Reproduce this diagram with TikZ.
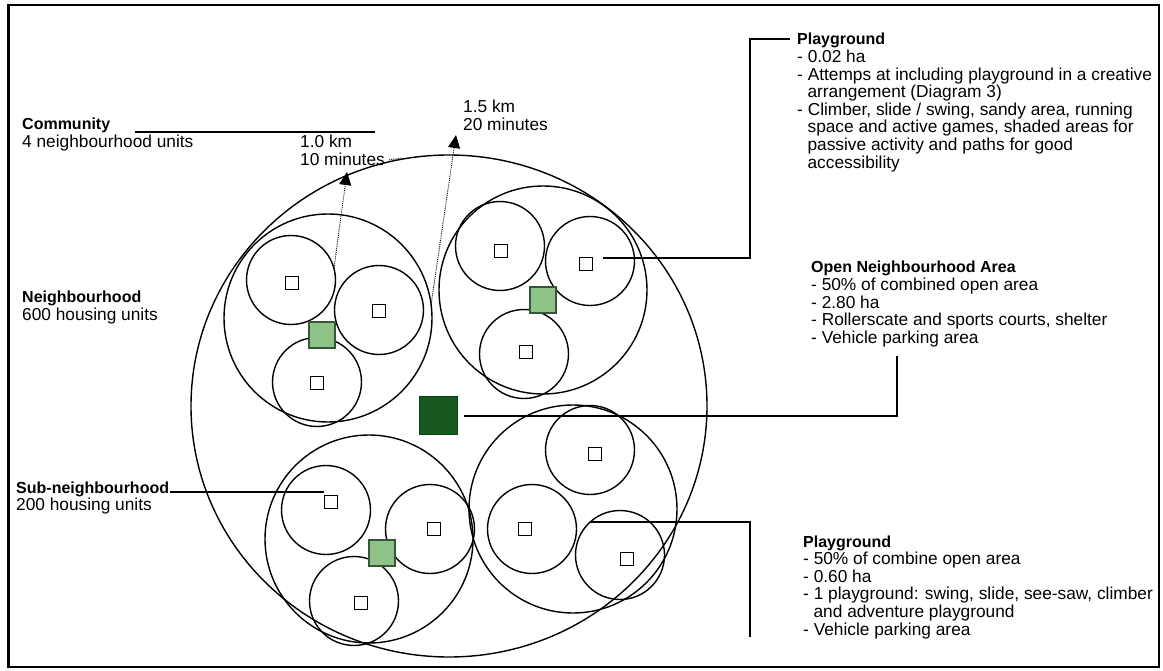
\documentclass[tikz,border=0pt]{standalone}
\usepackage{fontspec}
\setmainfont{Liberation Sans}
\usetikzlibrary{arrows.meta,shapes.geometric}
\definecolor{playfill}{RGB}{143,196,137}
\definecolor{playedge}{RGB}{55,85,55}
\definecolor{parkfill}{RGB}{22,88,30}
\newcommand{\hd}[1]{{\fontsize{16}{17.6}\selectfont\bfseries #1}}
\newcommand{\ind}{\hspace*{10.4pt}}
\begin{document}
\begin{tikzpicture}[x=1pt,y=-1pt,
  ring/.style={draw,line width=1.4pt,circle,inner sep=0pt},
  nbhd/.style={ring,minimum size=208pt},
  subring/.style={ring,minimum size=89pt},
  hut/.style={draw,line width=1.1pt,fill=white,minimum size=13pt,inner sep=0pt},
  play/.style={draw=playedge,line width=1.1pt,fill=playfill,minimum size=26pt,inner sep=0pt},
  park/.style={fill=parkfill,draw=parkfill!70!black,line width=0.8pt,minimum size=38pt,inner sep=0pt},
  lead/.style={line width=1.4pt},
  walk/.style={densely dotted,line width=0.9pt,-{Triangle[width=12pt,length=13pt]}},
  % anchored at the baseline of the last line
  txt/.style={anchor=base west,inner sep=0pt,align=left,font=\fontsize{17.3}{17.6}\selectfont}]
\useasboundingbox (0,0) rectangle (1163,671);
% frame
\draw[line width=2.5pt] (8.5,5) rectangle (1159,667);

% community boundary
\node[draw,line width=1.4pt,ellipse,inner sep=0pt,minimum width=516pt,minimum height=502pt] (community) at (449,406) {};

% neighbourhoods
\node[nbhd] (nNW) at (328,318) {};
\node[nbhd] (nNE) at (543,290) {};
\node[nbhd] (nSW) at (369,539) {};
\node[nbhd] (nSE) at (573,509) {};

% sub-neighbourhoods
\node[subring] (sNW1) at (291,280) {};
\node[subring] (sNW2) at (379,310) {};
\node[subring] (sNW3) at (317,382) {};
\node[subring] (sNE1) at (500,246) {};
\node[subring] (sNE2) at (590,261) {};
\node[subring] (sNE3) at (524,354) {};
\node[subring] (sSW1) at (326,510) {};
\node[subring] (sSW2) at (430,529) {};
\node[subring] (sSW3) at (354,601) {};
\node[subring] (sSE1) at (590,450) {};
\node[subring] (sSE2) at (532,529) {};
\node[subring] (sSE3) at (620,555) {};

% small playgrounds
\node[hut] (hNW1) at (292,283) {};
\node[hut] (hNW2) at (379,311) {};
\node[hut] (hNW3) at (317,383) {};
\node[hut] (hNE1) at (501,251) {};
\node[hut] (hNE2) at (586,264) {};
\node[hut] (hNE3) at (526,352) {};
\node[hut] (hSW1) at (331,502) {};
\node[hut] (hSW2) at (434,529) {};
\node[hut] (hSW3) at (361,603) {};
\node[hut] (hSE1) at (595,454) {};
\node[hut] (hSE2) at (525,529) {};
\node[hut] (hSE3) at (627,559) {};

% neighbourhood playgrounds
\node[play] (pNW) at (322,335) {};
\node[play] (pNE) at (543,300) {};
\node[play] (pSW) at (382,553) {};

% open neighbourhood area
\node[park] (park) at (438,415) {};

% texts
\node[txt] (tCommunity) at (22,147.6) {\hd{Community}\\4 neighbourhood units};
\node[txt] (tKm1) at (300,165.6) {1.0 km\\10 minutes};
\node[txt] (tKm2) at (463,130.6) {1.5 km\\20 minutes};
\node[txt] (tPlayA) at (797,168.2) {\hd{Playground}\\- 0.02 ha\\- Attemps at including playground in a creative\\\ind arrangement (Diagram 3)\\- Climber, slide / swing, sandy area, running\\\ind space and active games, shaded areas for\\\ind passive activity and paths for good\\\ind accessibility};
\node[txt] (tNbhd) at (22,320.6) {\hd{Neighbourhood}\\600 housing units};
\node[txt] (tOpen) at (811,343.4) {\hd{Open Neighbourhood Area}\\- 50\% of combined open area\\- 2.80 ha\\- Rollerscate and sports courts, shelter\\- Vehicle parking area};
\node[txt] (tSub) at (16,510.6) {\hd{Sub-neighbourhood}\\200 housing units};
\node[txt] (tPlayB) at (803,635) {\hd{Playground}\\- 50\% of combine open area\\- 0.60 ha\\- 1 playground: swing, slide, see-saw, climber\\\ind and adventure playground\\- Vehicle parking area};

% leader lines
\coordinate (cStart) at (135,132);
\coordinate (cEnd) at (375,132);
\draw[lead] (cStart) -- (cEnd);
\coordinate (subStart) at (170,492);
\draw[lead] (subStart) -- (subStart -| hSW1.west);
\coordinate (openStart) at (464,416);
\coordinate (openBend) at (897,416);
\coordinate (openTop) at (897,356);
\draw[lead] (openStart) -- (openBend) -- (openTop);
\coordinate (playAStart) at (603,258);
\coordinate (playABend1) at (750,258);
\coordinate (playABend2) at (750,39);
\coordinate (playAEnd) at (790,39);
\draw[lead] (playAStart) -- (playABend1) -- (playABend2) -- (playAEnd);
\coordinate (playBStart) at (590,522);
\coordinate (playBBend) at (750,522);
\coordinate (playBEnd) at (750,637);
\draw[lead] (playBStart) -- (playBBend) -- (playBEnd);

% walking distances
\coordinate (w1a) at (334,268);
\coordinate (w1b) at (347,172);
\draw[walk] (w1a) -- (w1b);
\coordinate (w2a) at (431,305);
\coordinate (w2b) at (456,135);
\draw[walk] (w2a) -- (w2b);
\coordinate (w3a) at (389,160);
\coordinate (w3b) at (402,158);
\draw[densely dotted,line width=0.9pt] (w3a) -- (w3b);
\end{tikzpicture}
\end{document}
